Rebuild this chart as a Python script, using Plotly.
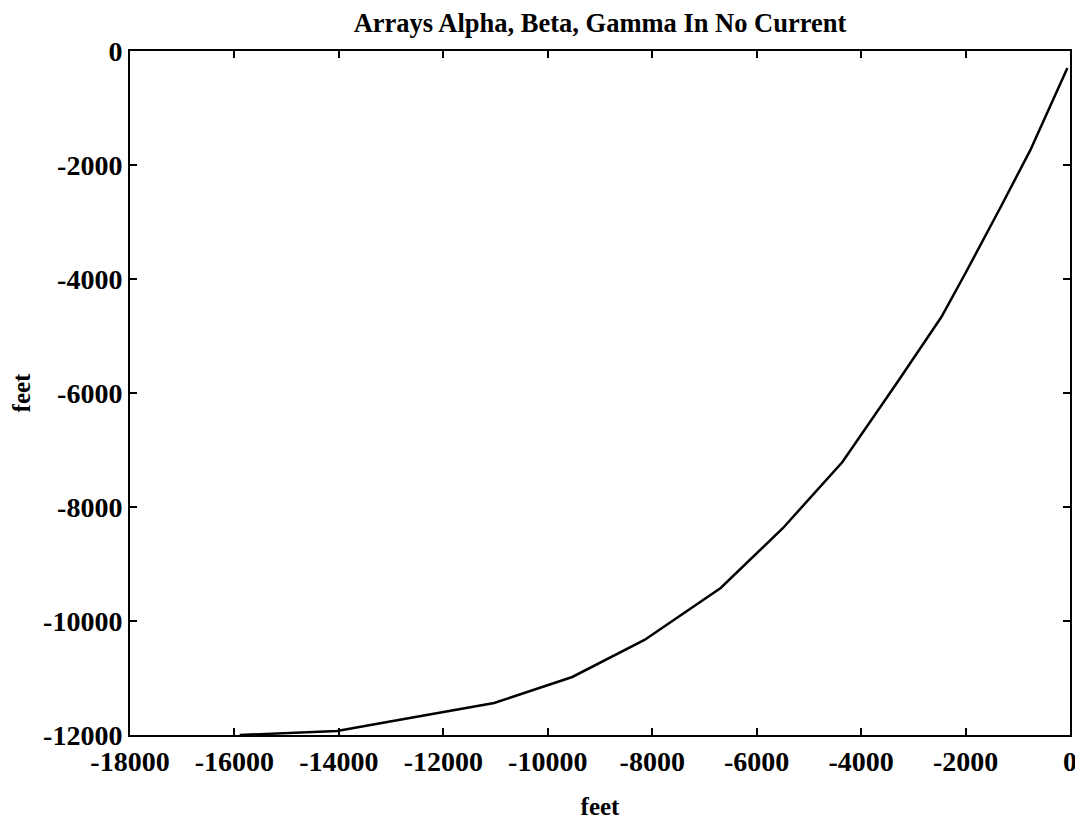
import plotly.graph_objects as go

# Data (feet)
x_feet = [-15900, -14036, -13074, -11027, -9531, -8148, -6689, -5495, -4358,
          -3316, -2463, -1990, -1327, -760, -50]
y_feet = [-12000, -11930, -11772, -11438, -10982, -10333, -9421, -8368, -7210,
          -5825, -4667, -3877, -2737, -1740, -300]

x_ticks = [-18000, -16000, -14000, -12000, -10000, -8000, -6000, -4000, -2000, 0]
y_ticks = [0, -2000, -4000, -6000, -8000, -10000, -12000]

title_text = "Arrays Alpha, Beta, Gamma In No Current"
x_label = "feet"
y_label = "feet"

font_family = "Liberation Serif, Times New Roman, serif"

fig = go.Figure()
fig.add_trace(go.Scatter(
    x=x_feet, y=y_feet, mode="lines",
    line=dict(color="black", width=2.5),
    showlegend=False, cliponaxis=True,
))

axis_common = dict(
    showgrid=False, zeroline=False,
    showline=True, linecolor="black", linewidth=2,
    ticks="inside", ticklen=7, tickwidth=1.5, tickcolor="black",
    mirror="ticks",
    tickfont=dict(family=font_family, size=28, color="black", weight="bold"),
)

fig.update_layout(
    width=1083, height=830,
    paper_bgcolor="white", plot_bgcolor="white",
    margin=dict(l=112, r=21, t=43, b=103),
    title=dict(text=title_text, x=0.5, xanchor="center", xref="paper",
               y=1 - 15 / 830, yanchor="middle", yref="container",
               font=dict(family=font_family, size=26.5, color="black", weight="bold")),
    xaxis=dict(range=[-18000, 0], tickvals=x_ticks,
               ticktext=[str(v) for v in x_ticks],
               title=dict(text=x_label, standoff=22,
                          font=dict(family=font_family, size=25, color="black", weight="bold")),
               **axis_common),
    yaxis=dict(range=[-12000, 0], tickvals=y_ticks,
               ticktext=[str(v) for v in y_ticks],
               title=dict(text=y_label, standoff=6,
                          font=dict(family=font_family, size=25, color="black", weight="bold")),
               **axis_common),
)

fig.write_html("out.html")
